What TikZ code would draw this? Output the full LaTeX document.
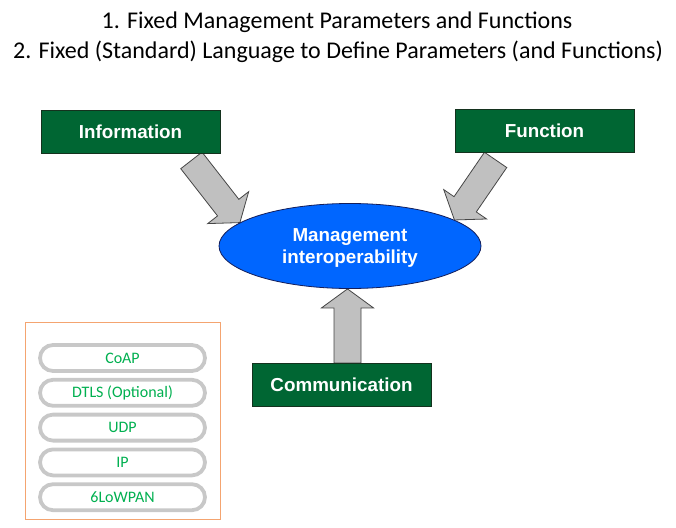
\documentclass[tikz,border=0pt]{standalone}
\usepackage{fontspec}
\setmainfont{Carlito}
\newfontfamily\arialfont{Liberation Sans}
\usetikzlibrary{positioning,calc,shapes.geometric,backgrounds}

\definecolor{boxgreen}{RGB}{0,102,51}
\definecolor{boxedge}{RGB}{20,50,30}
\definecolor{ovalblue}{RGB}{0,102,255}
\definecolor{ovaledge}{RGB}{20,30,90}
\definecolor{arrowgray}{RGB}{192,192,192}
\definecolor{arrowedge}{RGB}{70,70,70}
\definecolor{stackorange}{RGB}{244,164,112}
\definecolor{pillgreen}{RGB}{0,176,80}
\definecolor{pillgray}{RGB}{200,200,200}

\begin{document}
\begin{tikzpicture}[
  x=1pt, y=-1pt,
  title/.style={font=\fontsize{24}{30}\selectfont, inner sep=0pt, anchor=base},
  box/.style={draw=boxedge, fill=boxgreen, line width=0.8pt, minimum width=179pt, minimum height=43pt, inner sep=0pt, text height=13.5pt, text depth=0pt, text=white, font=\arialfont\bfseries\fontsize{18.8}{22}\selectfont},
  oval/.style={ellipse, draw=ovaledge, fill=ovalblue, line width=0.8pt, minimum width=262pt, minimum height=85pt, inner sep=0pt, align=center, text=white, font=\arialfont\bfseries\fontsize{18.8}{22}\selectfont},
  frame/.style={draw=stackorange, line width=0.8pt, minimum width=195pt, minimum height=197pt, inner sep=0pt},
  stackpill/.style={draw=pillgray, fill=white, line width=3.8pt, rounded corners=13pt, minimum width=165pt, minimum height=26pt, inner sep=0pt, text=pillgreen, font=\fontsize{16}{18}\selectfont},
  fatarrow/.style={fill=arrowgray, draw=arrowedge, line width=0.8pt, line join=miter,
    to path={($(\tikztostart)!13.5pt!90:(\tikztotarget)$)
      -- ($(\tikztotarget)!19pt!(\tikztostart)!13.5pt!90:(\tikztotarget)$)
      -- ($(\tikztotarget)!19pt!(\tikztostart)!26pt!90:(\tikztotarget)$)
      -- (\tikztotarget)
      -- ($(\tikztotarget)!19pt!(\tikztostart)!26pt!-90:(\tikztotarget)$)
      -- ($(\tikztotarget)!19pt!(\tikztostart)!13.5pt!-90:(\tikztotarget)$)
      -- ($(\tikztostart)!13.5pt!-90:(\tikztotarget)$) -- cycle}}
]
  \useasboundingbox (0,0) rectangle (676,527);

  % heading
  \node[title] (head1) at (337,28.5) {1. Fixed Management Parameters and Functions};
  \node[title] (head2) at (338,58.5) {2. Fixed (Standard) Language to Define Parameters (and Functions)};

  % main blocks
  \node[box] (info) at (130.5,131.5) {Information};
  \node[box] (func) at (544.5,131) {Function};
  \node[oval] (mgmt) at (350,246) {\rule{0pt}{17.5pt}Management\\interoperability};
  \node[box] (comm) at (341.5,385) {Communication};

  % arrow ends
  \coordinate (infoTail) at ($(info.south east)+(-29,7)$);
  \coordinate (infoTip) at (mgmt.168);
  \coordinate (funcTail) at ($(func.south west)+(41,7)$);
  \coordinate (funcTip) at (mgmt.14);
  \coordinate (commTail) at ($(comm.north)+(6,0)$);
  \coordinate (commTip) at (commTail |- mgmt.south);

  \begin{scope}[on background layer]
    \draw[fatarrow] (infoTail) to (infoTip);
    \draw[fatarrow] (funcTail) to (funcTip);
    \draw[fatarrow] (commTail) to (commTip);
  \end{scope}

  % protocol stack
  \node[frame] (stack) at (122.5,420.5) {};
  \node[stackpill] (coap) at (122.5,358) {CoAP};
  \node[stackpill, below=5pt of coap] (dtls) {DTLS (Optional)};
  \node[stackpill, below=5pt of dtls] (udp) {UDP};
  \node[stackpill, below=5pt of udp] (ip) {IP};
  \node[stackpill, below=5pt of ip] (lowpan) {6LoWPAN};
\end{tikzpicture}
\end{document}
